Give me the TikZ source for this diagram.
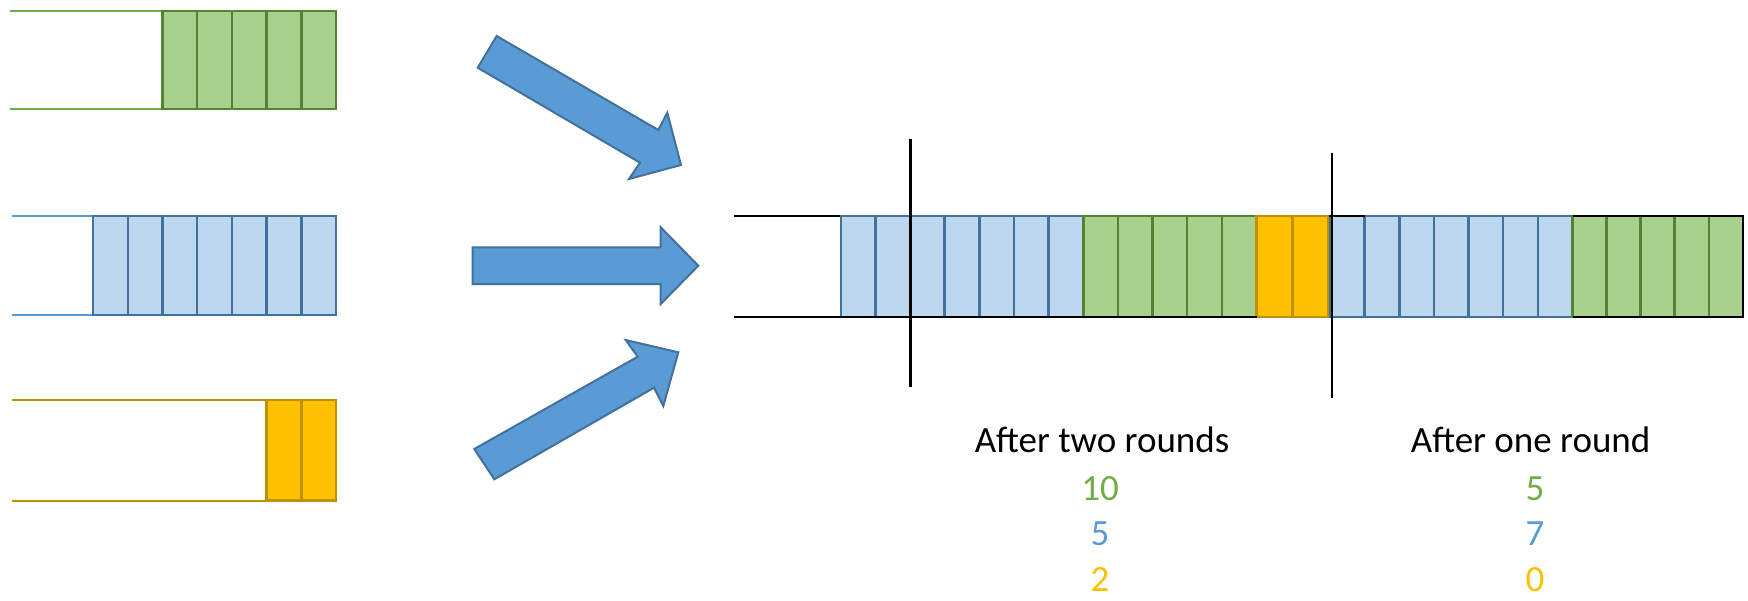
\documentclass[tikz,border=0pt]{standalone}
\usepackage{fontspec}
\setmainfont{Carlito}
\usepackage{xcolor}
\usepackage{tikz}

\definecolor{greenfill}{HTML}{A9D18E}
\definecolor{greenline}{HTML}{548235}
\definecolor{greenpipe}{HTML}{70AD47}
\definecolor{bluefill}{HTML}{BDD7EE}
\definecolor{blueline}{HTML}{41719C}
\definecolor{bluepipe}{HTML}{5B9BD5}
\definecolor{goldfill}{HTML}{FFC000}
\definecolor{goldline}{HTML}{BF9000}

\tikzset{
  greencell/.style={draw=greenline, fill=greenfill, line width=1.2pt},
  bluecell/.style={draw=blueline, fill=bluefill, line width=1.2pt},
  goldcell/.style={draw=goldline, fill=goldfill, line width=1.2pt},
  pipe/.style={line width=1pt},
  bigarrow/.style={draw=blueline, fill=bluepipe, line width=1pt, line join=miter},
  label/.style={anchor=base, font=\fontsize{18.5}{22}\selectfont}
}

\begin{document}
\begin{tikzpicture}[x=0.5pt, y=-0.5pt]
  \useasboundingbox (0,0) rectangle (1748,600);

  % input queues
  \draw[pipe, greenpipe] (10,11) -- (162.5,11) (10,109) -- (162.5,109);
  \foreach \i in {0,...,4}
    \draw[greencell] ({162.5+\i*34.7},11) rectangle ++(34.7,98);
  \draw[pipe, bluepipe] (12,216) -- (93.1,216) (12,315) -- (93.1,315);
  \foreach \i in {0,...,6}
    \draw[bluecell] ({93.1+\i*34.7},216) rectangle ++(34.7,99);
  \draw[pipe, goldline] (12,400) -- (266.6,400) (12,500.5) -- (266.6,500.5);
  \foreach \i in {0,...,1}
    \draw[goldcell] ({266.6+\i*34.7},400) rectangle ++(34.7,100.5);

  % merge arrows
  \draw[bigarrow] (496.7,36) -- (658.3,130) -- (667.3,112.7) -- (681,165)
    -- (629,179) -- (640,162.7) -- (477.7,67.7) -- cycle;
  \draw[bigarrow] (472.7,247.3) -- (660.7,247.3) -- (660.7,227.3) -- (698.3,265.7)
    -- (660.7,304) -- (660.7,284) -- (472.7,284) -- cycle;
  \draw[bigarrow] (474.3,449) -- (637.7,356.7) -- (625.7,340) -- (678.3,352.3)
    -- (663.3,406) -- (654,387.7) -- (494.3,479.3) -- cycle;

  % merged queue
  \draw[line width=1.2pt] (734,216) -- (1742.7,216) (734,317) -- (1742.7,317);
  \foreach \i in {0,...,6}
    \draw[bluecell] ({840.7+\i*34.65},216) rectangle ++(34.65,101);
  \foreach \i in {0,...,4}
    \draw[greencell] ({1083.3+\i*34.65},216) rectangle ++(34.65,101);
  \foreach \i in {0,...,1}
    \draw[goldcell] ({1256.6+\i*36},216) rectangle ++(36,101);
  \foreach \i in {0,...,6}
    \draw[bluecell] ({1330+\i*34.65},216) rectangle ++(34.65,101);
  \foreach \i in {0,...,4}
    \draw[greencell] ({1572.6+\i*34.02},216) rectangle ++(34.02,101);
  \draw[line width=1.2pt] (734,317) -- (1256.6,317);
  \draw[line width=1.2pt] (1328.6,216) -- (1364.6,216);
  \draw[line width=1.2pt] (1572.6,216) -- (1742.7,216) -- (1742.7,317) -- (1572.6,317);

  % round markers
  \coordinate (r2top) at (910.4,139);
  \coordinate (r2bot) at (910.4,387);
  \coordinate (r1top) at (1331.7,152.5);
  \coordinate (r1bot) at (1331.7,398);
  \draw[line width=1.2pt] (r2top) -- (r2bot);
  \draw[line width=1.2pt] (r1top) -- (r1bot);

  % counts
  \node[label] (two) at (1102,452.6) {After two rounds};
  \node[label, greenpipe] (twogreen) at (1100,500) {10};
  \node[label, bluepipe] (twoblue) at (1100,545) {5};
  \node[label, goldfill] (twogold) at (1100,591.5) {2};
  \node[label] (one) at (1530.6,452.6) {After one round};
  \node[label, greenpipe] (onegreen) at (1535,500) {5};
  \node[label, bluepipe] (oneblue) at (1535,545) {7};
  \node[label, goldfill] (onegold) at (1535,591.5) {0};
\end{tikzpicture}
\end{document}
